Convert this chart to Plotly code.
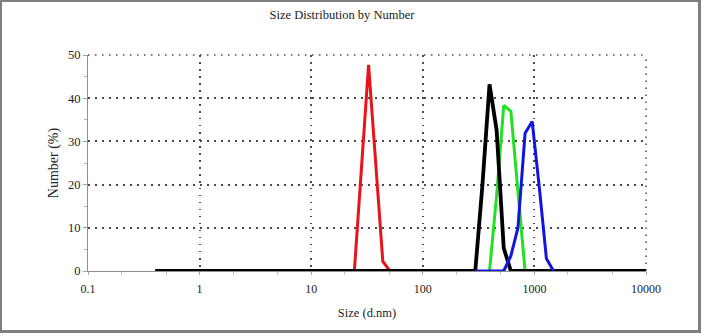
import plotly.graph_objects as go

# ---- data ----
red_size = [24.36, 28.21, 32.67, 37.84, 43.82, 50.75]
red_pct = [0, 23.0, 47.7, 25.0, 2.2, 0]

green_size = [396.1, 458.7, 531.2, 615.1, 712.4, 825.0]
green_pct = [0, 17.5, 38.3, 37.0, 18.4, 0]

black_size = [0.4, 295.3, 342.0, 396.1, 458.7, 531.2, 615.1, 10000]
black_pct = [0, 0, 19.8, 43.2, 32.6, 5.3, 0, 0]

blue_size = [295.3, 342.0, 396.1, 458.7, 531.2, 615.1, 712.4, 825.0, 955.4, 1106, 1281, 1484]
blue_pct = [0, 0, 0, 0, 0, 3.5, 10.0, 31.9, 34.6, 19.4, 2.9, 0]

x_tickvals = [0.1, 1, 10, 100, 1000, 10000]
x_ticktext = ["0.1", "1", "10", "100", "1000", "10000"]
y_tickvals = [0, 10, 20, 30, 40, 50]

FONT = "Liberation Serif"
W, H = 701, 333
L, R, T, B = 88, 55, 55, 62
PW, PH = W - L - R, H - T - B


def px_x(px):
    return (px - L) / PW


def px_y(py):
    return (H - B - py) / PH


fig = go.Figure()
for xs, ys, col, w in [
    (red_size, red_pct, "#e8141c", 3),
    (green_size, green_pct, "#22e022", 3),
    (black_size, black_pct, "#000000", 3.8),
    (blue_size, blue_pct, "#1414e0", 3),
]:
    fig.add_trace(go.Scatter(x=xs, y=ys, mode="lines",
                             line=dict(color=col, width=w),
                             showlegend=False, hoverinfo="skip"))

GRIDCOL = "#4a4a4a"
GRIDDASH = "1.5px,5.5px"
grid = dict(showgrid=True, gridcolor=GRIDCOL, gridwidth=1.5, griddash=GRIDDASH)

fig.update_xaxes(type="log", range=[-1, 4], tickvals=x_tickvals, ticktext=x_ticktext,
                 showline=True, linecolor="#909090", linewidth=1,
                 ticks="outside", ticklen=3, tickcolor="#a0a0a0",
                 minor=dict(ticks="outside", ticklen=3, tickcolor="#c0c0c0", showgrid=False),
                 tickfont=dict(family=FONT, size=12, color="#222"), ticklabelstandoff=4,
                 title=dict(text="Size (d.nm)", font=dict(family=FONT, size=12.5, color="#222"), standoff=12),
                 zeroline=False, **grid)
fig.update_yaxes(range=[0, 50], tickvals=y_tickvals,
                 showline=True, linecolor="#909090", linewidth=1,
                 ticks="outside", ticklen=4, tickcolor="#a0a0a0",
                 minor=dict(dtick=5, ticks="outside", ticklen=3, tickcolor="#b0b0b0", showgrid=False),
                 tickfont=dict(family=FONT, size=12.5, color="#222"),
                 title=dict(text="Number (%)", font=dict(family=FONT, size=14, color="#222"), standoff=6),
                 zeroline=False, **grid)

shapes = []
# dotted frame lines on top and right edges of the plot area
shapes.append(dict(type="line", xref="paper", yref="paper", x0=0, x1=1, y0=1, y1=1,
                   line=dict(color=GRIDCOL, width=1.5, dash=GRIDDASH), layer="below"))
shapes.append(dict(type="line", xref="paper", yref="paper", x0=1, x1=1, y0=0, y1=1,
                   line=dict(color=GRIDCOL, width=1.5, dash=GRIDDASH), layer="below"))
border = "#7f7f7f"
for x0, y0, x1, y1 in [(0, 0, 2, H), (0, 0, W, 2), (698, 0, W, H), (0, 330, W, H)]:
    shapes.append(dict(type="rect", xref="paper", yref="paper",
                       x0=px_x(x0), x1=px_x(x1), y0=px_y(y1), y1=px_y(y0),
                       fillcolor=border, line=dict(width=0), layer="above"))

fig.update_layout(
    width=W, height=H,
    margin=dict(l=L, r=R, t=T, b=B),
    paper_bgcolor="white", plot_bgcolor="white",
    title=dict(text="Size Distribution by Number", x=342 / W, xanchor="center",
               y=1 - 15 / H, yanchor="middle",
               font=dict(family=FONT, size=12.5, color="#222")),
    shapes=shapes,
)

fig.write_html("out.html", config={"displayModeBar": False},
               post_script="document.body.style.margin='0';document.body.style.overflow='hidden';")
